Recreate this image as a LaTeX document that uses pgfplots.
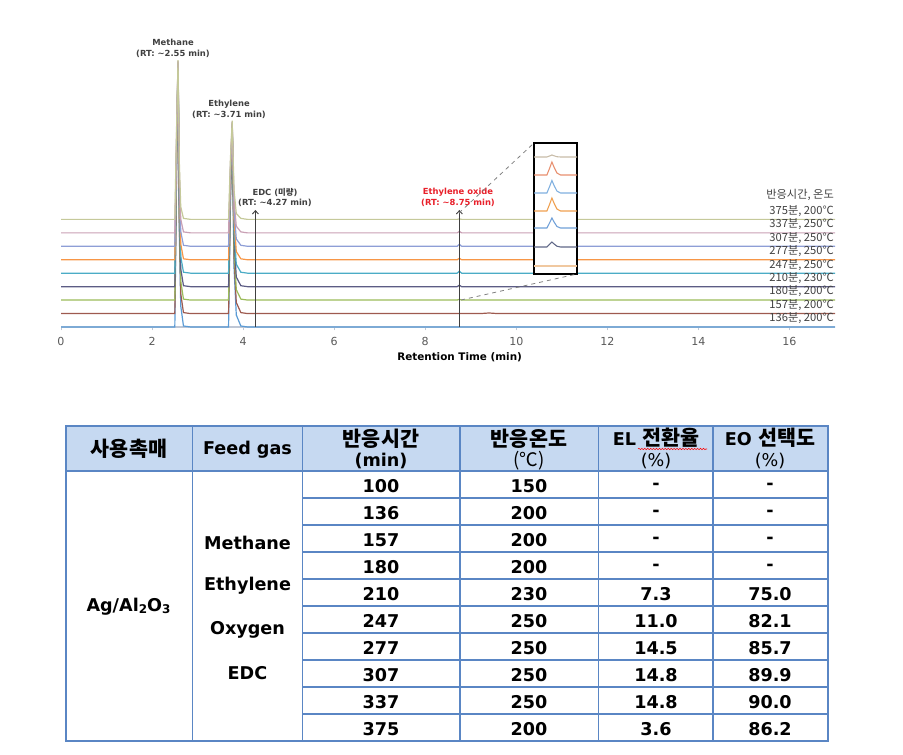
\documentclass[border=0pt]{standalone}
\usepackage{fontspec}
\setmainfont{DejaVu Sans}
\newfontfamily\kr{Noto Sans CJK KR}
\usepackage{pgfplots}
\pgfplotsset{compat=1.18}
\usetikzlibrary{arrows.meta,decorations.pathmorphing}

\definecolor{c0}{HTML}{5B9BD5}
\definecolor{c1}{HTML}{9E5A4F}
\definecolor{c2}{HTML}{9BBB59}
\definecolor{c3}{HTML}{5C5C84}
\definecolor{c4}{HTML}{4BACC6}
\definecolor{c5}{HTML}{F79646}
\definecolor{c6}{HTML}{8E9ED6}
\definecolor{c7}{HTML}{C9A0B4}
\definecolor{c8}{HTML}{C5C99A}
\definecolor{axg}{HTML}{BFC7D5}
\definecolor{tkg}{HTML}{595959}
\definecolor{lgc}{HTML}{404040}
\definecolor{eored}{HTML}{E8202A}
\definecolor{hdr}{HTML}{C6D9F1}
\definecolor{tbl}{HTML}{5A86C4}
\definecolor{i1}{HTML}{C8BCA8}
\definecolor{i2}{HTML}{E89070}
\definecolor{i3}{HTML}{80B0E0}
\definecolor{i4}{HTML}{F0A050}
\definecolor{i5}{HTML}{70A0D8}
\definecolor{i6}{HTML}{606888}
\definecolor{i7}{HTML}{F0C8A0}

\begin{document}
\begin{tikzpicture}
\path[use as bounding box] (0pt,0pt) rectangle (677.25pt,-566.25pt);

% ---------------- main chromatogram ----------------
\begin{axis}[
  at={(45.75pt,-245.25pt)}, anchor=south west,
  scale only axis, width=580.5pt, height=202.5pt,
  xmin=0, xmax=17, ymin=0, ymax=270,
  axis x line*=bottom, axis y line=none,
  ytick=\empty,
  xtick={0,2,4,6,8,10,12,14,16},
  tick align=outside, major tick length=2.5pt,
  x axis line style={color=axg, line width=0.8pt},
  xtick style={color=axg},
  xticklabel style={font=\fontsize{8.3}{9}\selectfont, text=tkg, yshift=-2pt},
  /pgf/number format/assume math mode=true,
  xlabel={Retention Time (min)},
  xlabel style={font=\bfseries\fontsize{7.8}{9}\selectfont, at={(axis description cs:0.515,0)}, anchor=center, yshift=-22.5pt},
  clip=false,
  every axis plot/.append style={line width=0.9pt},
]
\addplot[c0] coordinates {(0,0) (2.50,0) (2.54,157.2) (2.57,262) (2.60,91.7) (2.63,21.0) (2.69,1) (2.85,0) (3.68,0) (3.72,120) (3.76,200) (3.80,60) (3.85,12) (3.95,1) (4.10,0) (17,0)};
\addplot[c1] coordinates {(0,13.4) (2.50,13.4) (2.54,162.9) (2.57,262.6) (2.60,100.6) (2.63,33.3) (2.69,14.4) (2.85,13.4) (3.68,13.4) (3.72,125.8) (3.76,200.8) (3.80,69.6) (3.85,24.6) (3.95,14.4) (4.10,13.4) (9.2,13.4) (9.4,14.0) (9.6,13.4) (17,13.4)};
\addplot[c2] coordinates {(0,26.9) (2.50,26.9) (2.54,168.7) (2.57,263.2) (2.60,109.6) (2.63,45.8) (2.69,27.9) (2.85,26.9) (3.68,26.9) (3.72,131.7) (3.76,201.6) (3.80,79.3) (3.85,37.4) (3.95,27.9) (4.10,26.9) (8.70,26.9) (8.75,27.7) (8.80,26.9) (17,26.9)};
\addplot[c3] coordinates {(0,40.3) (2.50,40.3) (2.54,174.4) (2.57,263.8) (2.60,118.5) (2.63,58.2) (2.69,41.3) (2.85,40.3) (3.68,40.3) (3.72,137.6) (3.76,202.4) (3.80,88.9) (3.85,50.0) (3.95,41.3) (4.10,40.3) (8.70,40.3) (8.75,41.8) (8.80,40.3) (17,40.3)};
\addplot[c4] coordinates {(0,53.8) (2.50,53.8) (2.54,180.2) (2.57,264.4) (2.60,127.5) (2.63,70.6) (2.69,54.8) (2.85,53.8) (3.68,53.8) (3.72,143.4) (3.76,203.2) (3.80,98.6) (3.85,62.8) (3.95,54.8) (4.10,53.8) (8.70,53.8) (8.75,55.8) (8.80,53.8) (17,53.8)};
\addplot[c5] coordinates {(0,67.2) (2.50,67.2) (2.54,185.9) (2.57,265.0) (2.60,136.4) (2.63,83.0) (2.69,68.2) (2.85,67.2) (3.68,67.2) (3.72,149.3) (3.76,204.0) (3.80,108.2) (3.85,75.4) (3.95,68.2) (4.10,67.2) (8.70,67.2) (8.75,68.7) (8.80,67.2) (17,67.2)};
\addplot[c6] coordinates {(0,80.7) (2.50,80.7) (2.54,191.6) (2.57,265.6) (2.60,145.4) (2.63,95.5) (2.69,81.7) (2.85,80.7) (3.68,80.7) (3.72,155.2) (3.76,204.8) (3.80,117.9) (3.85,88.1) (3.95,81.7) (4.10,80.7) (8.70,80.7) (8.75,82.7) (8.80,80.7) (17,80.7)};
\addplot[c7] coordinates {(0,94.1) (2.50,94.1) (2.54,197.4) (2.57,266.2) (2.60,154.3) (2.63,107.9) (2.69,95.1) (2.85,94.1) (3.68,94.1) (3.72,161.0) (3.76,205.6) (3.80,127.6) (3.85,100.8) (3.95,95.1) (4.10,94.1) (8.70,94.1) (8.75,95.6) (8.80,94.1) (17,94.1)};
\addplot[c8] coordinates {(0,107.6) (2.50,107.6) (2.54,203.1) (2.57,266.8) (2.60,163.3) (2.63,120.3) (2.69,108.6) (2.85,107.6) (3.68,107.6) (3.72,166.9) (3.76,206.4) (3.80,137.2) (3.85,113.5) (3.95,108.6) (4.10,107.6) (8.70,107.6) (8.75,108.1) (8.80,107.6) (17,107.6)};
% arrows
\addplot[lgc, line width=0.7pt, -{Straight Barb[length=2.5pt,width=4.5pt]}] coordinates {(4.27,0) (4.27,117)};
\addplot[lgc, line width=0.7pt, -{Straight Barb[length=2.5pt,width=4.5pt]}] coordinates {(8.75,0) (8.75,117)};
% peak labels
\node[align=center, font=\bfseries\fontsize{6.3}{8.2}\selectfont, text=lgc] at (axis cs:2.46,278.5) {Methane\\(RT: \textasciitilde2.55 min)};
\node[align=center, font=\bfseries\fontsize{6.3}{8.2}\selectfont, text=lgc] at (axis cs:3.69,218) {Ethylene\\(RT: \textasciitilde3.71 min)};
\node[align=center, font=\bfseries\fontsize{6.3}{8.2}\selectfont, text=lgc] at (axis cs:4.70,129.5) {EDC ({\kr 미량})\\(RT: \textasciitilde4.27 min)};
\node[align=center, font=\bfseries\fontsize{6.3}{8.2}\selectfont, text=eored] at (axis cs:8.72,129.5) {Ethylene oxide\\(RT: \textasciitilde8.75 min)};
% legend-like labels
\node[anchor=east, inner sep=0pt, font=\kr\fontsize{8.4}{9}\selectfont, text=lgc] at (axis cs:16.98,132) {반응시간, 온도};
\node[anchor=east, inner sep=0pt, font=\kr\fontsize{8.4}{9}\selectfont, text=lgc] at (axis cs:16.98,116) {375분, 200℃};
\node[anchor=east, inner sep=0pt, font=\kr\fontsize{8.4}{9}\selectfont, text=lgc] at (axis cs:16.98,102.5) {337분, 250℃};
\node[anchor=east, inner sep=0pt, font=\kr\fontsize{8.4}{9}\selectfont, text=lgc] at (axis cs:16.98,89) {307분, 250℃};
\node[anchor=east, inner sep=0pt, font=\kr\fontsize{8.4}{9}\selectfont, text=lgc] at (axis cs:16.98,76) {277분, 250℃};
\node[anchor=east, inner sep=0pt, font=\kr\fontsize{8.4}{9}\selectfont, text=lgc] at (axis cs:16.98,62) {247분, 250℃};
\node[anchor=east, inner sep=0pt, font=\kr\fontsize{8.4}{9}\selectfont, text=lgc] at (axis cs:16.98,49) {210분, 230℃};
\node[anchor=east, inner sep=0pt, font=\kr\fontsize{8.4}{9}\selectfont, text=lgc] at (axis cs:16.98,36) {180분, 200℃};
\node[anchor=east, inner sep=0pt, font=\kr\fontsize{8.4}{9}\selectfont, text=lgc] at (axis cs:16.98,22) {157분, 200℃};
\node[anchor=east, inner sep=0pt, font=\kr\fontsize{8.4}{9}\selectfont, text=lgc] at (axis cs:16.98,9) {136분, 200℃};
\end{axis}

% ---------------- inset ----------------
\begin{axis}[
  at={(400.5pt,-205.5pt)}, anchor=south west,
  scale only axis, width=32.25pt, height=98.25pt,
  xmin=8.5, xmax=9.1, ymin=0, ymax=131,
  xtick=\empty, ytick=\empty,
  axis background/.style={fill=white},
  axis line style={black, line width=1.1pt},
  every axis plot/.append style={line width=0.8pt},
]
\addplot[i1] coordinates {(8.5,117) (8.68,117) (8.72,118.1) (8.75,119) (8.78,118.2) (8.82,117.3) (8.87,117) (9.1,117)};
\addplot[i2] coordinates {(8.5,99) (8.68,99) (8.72,106.2) (8.75,112) (8.78,106.8) (8.82,101) (8.87,99) (9.1,99)};
\addplot[i3] coordinates {(8.5,81) (8.68,81) (8.72,87.9) (8.75,93.5) (8.78,88.5) (8.82,82.9) (8.87,81) (9.1,81)};
\addplot[i4] coordinates {(8.5,63) (8.68,63) (8.72,70.2) (8.75,76) (8.78,70.8) (8.82,65) (8.87,63) (9.1,63)};
\addplot[i5] coordinates {(8.5,46) (8.68,46) (8.72,51.5) (8.75,56) (8.78,52) (8.82,47.5) (8.87,46) (9.1,46)};
\addplot[i6] coordinates {(8.5,27) (8.68,27) (8.72,29.8) (8.75,32) (8.78,30) (8.82,27.8) (8.87,27) (9.1,27)};
\addplot[i7] coordinates {(8.5,8) (9.1,8)};
\end{axis}

% ---------------- annotations and table (pixel units) ----------------
\begin{scope}[x=0.75pt, y=-0.75pt]
\draw[dashed, gray, line width=0.6pt] (459,213) -- (534,143);
\draw[dashed, gray, line width=0.6pt] (461,300) -- (577,274);

% table
\fill[hdr] (65.5,426) rectangle (828,471);
\draw[tbl, line width=1.1pt] (302.5,498) -- (828,498);
\foreach \y in {525,552,579,606,633,660,687,714} {\draw[tbl, line width=1.1pt] (302.5,\y) -- (828,\y);}
\foreach \x in {192.5,302.5,460,598.5,713} {\draw[tbl, line width=1.1pt] (\x,426) -- (\x,741);}
\draw[tbl, line width=1.1pt] (65.5,471) -- (828,471);
\draw[tbl, line width=1.5pt] (65.5,426) rectangle (828,741);

% header
\node[font=\kr\bfseries\fontsize{15.5}{18}\selectfont] at (129,449) {사용촉매};
\node[font=\bfseries\fontsize{13.2}{16}\selectfont] at (247.5,450) {Feed gas};
\node[font=\kr\bfseries\fontsize{15.5}{18}\selectfont] at (381,439) {반응시간};
\node[font=\bfseries\fontsize{13.2}{16}\selectfont] at (381,461) {(min)};
\node[font=\kr\bfseries\fontsize{15.5}{18}\selectfont] at (529,439) {반응온도};
\node[font=\kr\fontsize{14}{16}\selectfont] at (529,461) {(℃)};
\node[font=\bfseries\fontsize{13.2}{16}\selectfont] at (656,438) {EL {\kr\fontsize{15.5}{18}\selectfont 전환율}};
\node[font=\fontsize{13.2}{16}\selectfont] at (656,461) {(\%)};
\node[font=\bfseries\fontsize{13.2}{16}\selectfont] at (770,438) {EO {\kr\fontsize{15.5}{18}\selectfont 선택도}};
\node[font=\fontsize{13.2}{16}\selectfont] at (770,461) {(\%)};
\draw[red, line width=0.4pt, decorate, decoration={snake, amplitude=0.5pt, segment length=2.2pt}] (638,449) -- (707,449);

% merged cells
\node[font=\bfseries\fontsize{13.2}{16}\selectfont] at (128.5,607) {Ag/Al{\fontsize{9}{9}\selectfont\raisebox{-1pt}{2}}O{\fontsize{9}{9}\selectfont\raisebox{-1pt}{3}}};
\node[font=\bfseries\fontsize{13.2}{16}\selectfont] at (247.5,543) {Methane};
\node[font=\bfseries\fontsize{13.2}{16}\selectfont] at (247.5,586) {Ethylene};
\node[font=\bfseries\fontsize{13.2}{16}\selectfont] at (247.5,630) {Oxygen};
\node[font=\bfseries\fontsize{13.2}{16}\selectfont] at (247.5,673) {EDC};

% body rows
\foreach \t/\T/\el/\eo [count=\k from 0] in {100/150/-/-,136/200/-/-,157/200/-/-,180/200/-/-,210/230/7.3/75.0,247/250/11.0/82.1,277/250/14.5/85.7,307/250/14.8/89.9,337/250/14.8/90.0,375/200/3.6/86.2} {
  \pgfmathsetmacro{\yy}{486+27*\k}
  \node[font=\bfseries\fontsize{13.2}{16}\selectfont] at (381,\yy) {\t};
  \node[font=\bfseries\fontsize{13.2}{16}\selectfont] at (529,\yy) {\T};
  \node[font=\bfseries\fontsize{13.2}{16}\selectfont] at (656,\yy) {\el};
  \node[font=\bfseries\fontsize{13.2}{16}\selectfont] at (770,\yy) {\eo};
}
\end{scope}
\end{tikzpicture}
\end{document}
